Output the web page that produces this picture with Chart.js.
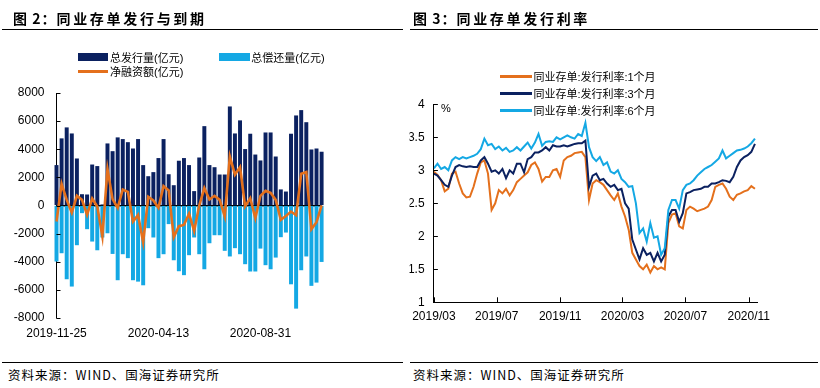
<!DOCTYPE html>
<html><head><meta charset="utf-8">
<script src="https://cdn.jsdelivr.net/npm/chart.js@4.4.1/dist/chart.umd.min.js"></script>
<style>
html,body{margin:0;padding:0;background:#fff;}
body{width:820px;height:388px;position:relative;overflow:hidden;font-family:'Liberation Sans','Noto Sans CJK SC',sans-serif;color:#000;}
.abs{position:absolute;}
.title{font-family:'Noto Sans CJK SC','Liberation Sans',sans-serif;font-weight:700;font-size:14px;line-height:20px;letter-spacing:2.7px;white-space:nowrap;}
.rule{position:absolute;height:1px;background:#000;}
.src{position:absolute;font-family:'Noto Sans CJK SC',sans-serif;font-size:12.5px;line-height:16px;letter-spacing:1px;white-space:nowrap;}
.lg{position:absolute;font-family:'Liberation Sans','Noto Sans CJK SC',sans-serif;font-size:11px;line-height:14px;white-space:nowrap;}
.sw{position:absolute;}
canvas{position:absolute;top:0;}
</style></head><body>
<canvas id="c1" width="405" height="345" style="left:0px"></canvas>
<canvas id="c2" width="415" height="345" style="left:405px"></canvas>
<div class="abs title" style="left:13px;top:8px"><span style="letter-spacing:1px">图 2：</span>同业存单发行与到期</div>
<div class="abs title" style="left:413px;top:8px"><span style="letter-spacing:1px">图 3：</span>同业存单发行利率</div>
<div class="rule" style="left:2px;top:29px;width:401px"></div>
<div class="rule" style="left:410px;top:29px;width:408px"></div>
<div class="rule" style="left:2px;top:362px;width:401px"></div>
<div class="rule" style="left:410px;top:362px;width:408px"></div>
<div class="src" style="left:8px;top:367px">资料来源：WIND、国海证券研究所</div>
<div class="src" style="left:413px;top:367px">资料来源：WIND、国海证券研究所</div>
<div class="lg" style="left:441px;top:101px">%</div>
<div id="legends"></div>
<script>
// ---------- Figure 2 data (weekly, 亿元) ----------
const barDates = ['2019-11-25','2019-12-02','2019-12-09','2019-12-16','2019-12-23','2019-12-30','2020-01-06','2020-01-13','2020-01-20','2020-01-27',
'2020-02-03','2020-02-10','2020-02-17','2020-02-24','2020-03-02','2020-03-09','2020-03-16','2020-03-23','2020-03-30','2020-04-06',
'2020-04-13','2020-04-20','2020-04-27','2020-05-04','2020-05-11','2020-05-18','2020-05-25','2020-06-01','2020-06-08','2020-06-15',
'2020-06-22','2020-06-29','2020-07-06','2020-07-13','2020-07-20','2020-07-27','2020-08-03','2020-08-10','2020-08-17','2020-08-24',
'2020-08-31','2020-09-07','2020-09-14','2020-09-21','2020-09-28','2020-10-05','2020-10-12','2020-10-19','2020-10-26','2020-11-02',
'2020-11-09','2020-11-16','2020-11-23'];
const issueVol = [2850,4750,5530,5100,3320,780,760,2890,2780,50,
4390,3840,4820,4700,4480,4030,4700,2850,2060,2350,
3350,4700,2200,1420,3160,3350,2850,1000,3390,5620,
2850,2700,2180,2180,7020,5100,6030,3990,5080,3600,
3180,5170,5170,3460,1120,970,5080,6380,6760,5900,
3960,4030,3800];
const repayVol = [-3960,-3370,-5220,-5740,-2800,-520,-1660,-2540,-3160,-2250,
-1950,-3420,-5290,-3440,-3720,-5290,-5390,-5650,-1590,-2250,
-3720,-3440,-1300,-3870,-4650,-4930,-3510,-2250,-3440,-4510,
-2660,-2090,-2090,-3200,-3600,-3010,-3440,-4150,-4670,-4670,
-3040,-4220,-4510,-3680,-2230,-1900,-5580,-7310,-4580,-3600,
-5690,-5460,-3990];
const netFin = [-1140,1540,400,-500,690,400,-660,500,-70,-2200,
2590,450,-170,1140,970,-1140,-670,-2610,620,360,
-170,1380,1070,-2260,-1470,-1380,-590,-1800,0,1240,
430,690,400,-780,3490,2190,2730,-70,520,-900,
690,1050,900,400,-1020,-740,-430,-690,2260,2380,
-1690,-1190,0];
const barTickLabels = ['2019-11-25','2020-04-13','2020-08-31'];
const barSeriesNames = ['总发行量(亿元)','总偿还量(亿元)','净融资额(亿元)'];

// ---------- Figure 3 data (weekly samples, %) ----------
const rateDates = ['2019-03-01','2019-03-08','2019-03-15','2019-03-22','2019-03-29','2019-04-05','2019-04-12','2019-04-19','2019-04-26',
'2019-05-03','2019-05-10','2019-05-17','2019-05-24','2019-05-31','2019-06-07','2019-06-14','2019-06-21','2019-06-28',
'2019-07-05','2019-07-12','2019-07-19','2019-07-26','2019-08-02','2019-08-09','2019-08-16','2019-08-23','2019-08-30',
'2019-09-06','2019-09-13','2019-09-20','2019-09-27','2019-10-04','2019-10-11','2019-10-18','2019-10-25',
'2019-11-01','2019-11-08','2019-11-15','2019-11-22','2019-11-29','2019-12-06','2019-12-13','2019-12-20','2019-12-27',
'2020-01-03','2020-01-10','2020-01-17','2020-01-24','2020-01-31','2020-02-07','2020-02-14','2020-02-21','2020-02-28',
'2020-03-06','2020-03-13','2020-03-20','2020-03-27','2020-04-03','2020-04-10','2020-04-17','2020-04-24',
'2020-05-01','2020-05-08','2020-05-15','2020-05-22','2020-05-29','2020-06-05','2020-06-12','2020-06-19','2020-06-26',
'2020-07-03','2020-07-10','2020-07-17','2020-07-24','2020-07-31','2020-08-07','2020-08-14','2020-08-21','2020-08-28',
'2020-09-04','2020-09-11','2020-09-18','2020-09-25','2020-10-02','2020-10-09','2020-10-16','2020-10-23','2020-10-30',
'2020-11-06','2020-11-13'];
const rate1M = [2.98,2.93,2.85,2.68,2.72,2.95,2.98,2.8,2.65,2.59,2.6,2.75,2.95,3.12,3.15,2.95,2.4,2.5,2.7,2.65,2.72,2.62,2.7,
2.82,2.87,2.92,2.97,3.08,3.12,3.02,2.83,2.9,2.9,3.0,3.02,2.9,3.15,3.2,3.22,3.26,3.27,3.28,3.2,2.55,
2.8,2.85,2.82,2.78,2.7,2.62,2.55,2.65,2.45,2.3,2.1,1.75,1.65,1.55,1.5,1.57,1.45,1.55,1.5,1.53,1.5,
2.2,2.33,2.35,2.15,2.12,2.4,2.45,2.42,2.38,2.4,2.42,2.45,2.55,2.75,2.78,2.8,2.72,2.6,2.55,2.63,2.65,2.68,2.7,2.76,2.72];
const rate3M = [2.95,2.92,2.85,2.78,2.75,2.92,3.05,3.08,3.06,3.05,3.06,3.05,3.05,3.15,3.2,3.1,2.98,3.0,2.95,3.02,2.88,3.0,2.95,
3.1,3.1,2.97,3.17,3.2,3.27,3.27,3.3,3.35,3.3,3.38,3.36,3.36,3.38,3.36,3.38,3.4,3.41,3.41,3.45,2.75,
2.92,2.95,2.85,2.87,2.8,2.75,2.78,2.7,2.72,2.5,2.42,1.95,1.8,1.65,1.82,1.72,1.75,1.62,1.75,1.62,1.72,
2.3,2.4,2.4,2.22,2.35,2.65,2.67,2.7,2.71,2.72,2.75,2.75,2.8,2.8,2.82,2.85,2.84,2.82,2.9,3.05,3.15,3.2,3.23,3.28,3.4];
const rate6M = [3.03,3.1,3.02,3.05,3.0,3.15,3.2,3.17,3.2,3.18,3.2,3.22,3.25,3.32,3.48,3.38,3.4,3.32,3.36,3.3,3.34,3.28,3.3,
3.35,3.3,3.36,3.42,3.33,3.42,3.55,3.37,3.43,3.44,3.43,3.5,3.47,3.5,3.53,3.5,3.48,3.55,3.52,3.72,3.35,
3.2,3.14,3.2,3.08,3.12,2.98,2.95,3.0,2.87,2.82,2.75,2.76,2.5,2.05,2.12,1.92,2.2,1.98,2.0,1.72,1.82,
2.4,2.55,2.55,2.42,2.7,2.78,2.8,2.85,2.92,2.97,3.02,3.05,3.08,3.13,3.18,3.3,3.18,3.22,3.26,3.3,3.31,3.33,3.36,3.41,3.48];
const rateTickDates = ['2019-03-01','2019-07-01','2019-11-01','2020-03-01','2020-07-01','2020-11-01'];
const rateTickLabels = ['2019/03','2019/07','2019/11','2020/03','2020/07','2020/11'];
const rateAxisEnd = '2020-11-17';
const rateSeriesNames = ['同业存单:发行利率:1个月','同业存单:发行利率:3个月','同业存单:发行利率:6个月'];

// ---------- styling ----------
const NAVY = '#0b2160', LBLUE = '#14a8e4', ORANGE = '#e4701c';
Chart.defaults.color = '#000';
Chart.defaults.font.family = "'Liberation Sans', Arial, sans-serif";
Chart.defaults.font.size = 12;

function dayOffset(s){
  const [y,m,d] = s.split('-').map(Number);
  return (Date.UTC(y,m-1,d) - Date.UTC(2019,2,1)) / 86400000;
}

const insideTicks = {
  id: 'insideTicks',
  afterDraw(chart, args, opts){
    const ctx = chart.ctx, ys = chart.scales.y, xs = chart.scales.x;
    ctx.save();
    ctx.strokeStyle = '#000'; ctx.lineWidth = 1;
    ys.ticks.forEach((t,i) => {
      const py = Math.round(ys.getPixelForTick(i)) + 0.5;
      ctx.beginPath(); ctx.moveTo(ys.right, py); ctx.lineTo(ys.right + 4, py); ctx.stroke();
    });
    if (opts.xTicks) {
      xs.ticks.forEach((t,i) => {
        const px = Math.round(xs.getPixelForTick(i)) + 0.5;
        ctx.beginPath(); ctx.moveTo(px, xs.top); ctx.lineTo(px, xs.top - 5); ctx.stroke();
      });
    }
    ctx.restore();
  }
};

// ---------- Figure 2 chart ----------
new Chart(document.getElementById('c1'), {
  data: {
    labels: barDates,
    datasets: [
      {type:'line', label: barSeriesNames[2], data: netFin, borderColor: ORANGE, borderWidth: 2.6,
       pointRadius: 0, tension: 0, order: 0, clip: false},
      {type:'bar', label: barSeriesNames[0], data: issueVol, backgroundColor: NAVY, barThickness: 3.3,
       grouped: false, order: 2, clip: false},
      {type:'bar', label: barSeriesNames[1], data: repayVol, backgroundColor: LBLUE, barThickness: 3.3,
       grouped: false, order: 1, clip: false}
    ]
  },
  options: {
    responsive: false, animation: false, devicePixelRatio: 1,
    layout: {padding: {left: 0, top: 93, right: 83.4, bottom: 7}},
    plugins: {legend: {display: false}, tooltip: {enabled: false}, insideTicks: {xTicks: false}},
    scales: {
      x: {type: 'category', offset: false,
          grid: {display: false, drawTicks: false, tickLength: 0, offset: false},
          border: {display: false},
          ticks: {autoSkip: false, maxRotation: 0, minRotation: 0, padding: 8,
                  callback: function(v, i){ const l = barDates[i]; return barTickLabels.includes(l) ? l : ''; }},
          afterFit: s => { s.height = 20; }},
      y: {min: -8000, max: 8000, z: 1,
          grid: {drawTicks: false, tickLength: 0, lineWidth: 1.5,
                 color: c => (c.tick && c.tick.value === 0) ? '#000' : 'rgba(0,0,0,0)'},
          border: {display: true, color: '#000', width: 1},
          ticks: {stepSize: 2000, padding: 12, callback: v => String(v)},
          afterFit: s => { s.width = 56.5; }}
    }
  },
  plugins: [insideTicks]
});

// ---------- Figure 3 chart ----------
const toPts = arr => arr.map((v,i) => ({x: dayOffset(rateDates[i]), y: v}));
new Chart(document.getElementById('c2'), {
  type: 'line',
  data: {
    datasets: [
      {label: rateSeriesNames[0], data: toPts(rate1M), borderColor: ORANGE, borderWidth: 2, pointRadius: 0, tension: 0, order: 2},
      {label: rateSeriesNames[1], data: toPts(rate3M), borderColor: NAVY, borderWidth: 2, pointRadius: 0, tension: 0, order: 1},
      {label: rateSeriesNames[2], data: toPts(rate6M), borderColor: LBLUE, borderWidth: 2, pointRadius: 0, tension: 0, order: 0}
    ]
  },
  options: {
    responsive: false, animation: false, devicePixelRatio: 1,
    layout: {padding: {left: 0, top: 104.3, right: 63, bottom: 22.7}},
    plugins: {legend: {display: false}, tooltip: {enabled: false}, insideTicks: {xTicks: true}},
    scales: {
      x: {type: 'linear', min: 0, max: dayOffset(rateAxisEnd),
          grid: {display: true, drawOnChartArea: false, drawTicks: false, tickLength: 0, color: 'rgba(0,0,0,0)'},
          border: {display: true, color: '#000', width: 1},
          afterBuildTicks: s => { s.ticks = rateTickDates.map(d => ({value: dayOffset(d)})); },
          ticks: {autoSkip: false, maxRotation: 0, minRotation: 0, padding: 7.2,
                  callback: (v, i) => rateTickLabels[i]},
          afterFit: s => { s.height = 20; }},
      y: {min: 1, max: 4,
          grid: {display: true, drawOnChartArea: false, drawTicks: false, tickLength: 0, color: 'rgba(0,0,0,0)'},
          border: {display: true, color: '#000', width: 1},
          ticks: {stepSize: 0.5, padding: 9.3, callback: v => String(v)},
          afterFit: s => { s.width = 24.3; }}
    }
  },
  plugins: [insideTicks]
});

// ---------- HTML legends ----------
const lgWrap = document.getElementById('legends');
function addLegend(x, y, color, text, kind, sw){
  const s = document.createElement('div');
  s.className = 'sw';
  const h = kind === 'box' ? 7.5 : (kind === 'line' ? 3.3 : 3.6);
  s.style.cssText = `left:${x}px;top:${y - h/2}px;width:${sw}px;height:${h}px;background:${color}`;
  lgWrap.appendChild(s);
  const t = document.createElement('div');
  t.className = 'lg';
  t.style.cssText = `left:${x + sw + 1.7}px;top:${y - 7 + (kind==='box'?1:0.5)}px`;
  t.textContent = text;
  lgWrap.appendChild(t);
}
addLegend(77.7, 57.2, NAVY, barSeriesNames[0], 'box', 30.6);
addLegend(219, 57.2, LBLUE, barSeriesNames[1], 'box', 30.6);
addLegend(77.7, 71.2, ORANGE, barSeriesNames[2], 'line', 30.6);
addLegend(500, 76.7, ORANGE, rateSeriesNames[0], 'rline', 31.7);
addLegend(500, 93.3, NAVY, rateSeriesNames[1], 'rline', 31.7);
addLegend(500, 110.7, LBLUE, rateSeriesNames[2], 'rline', 31.7);
</script>
</body></html>
